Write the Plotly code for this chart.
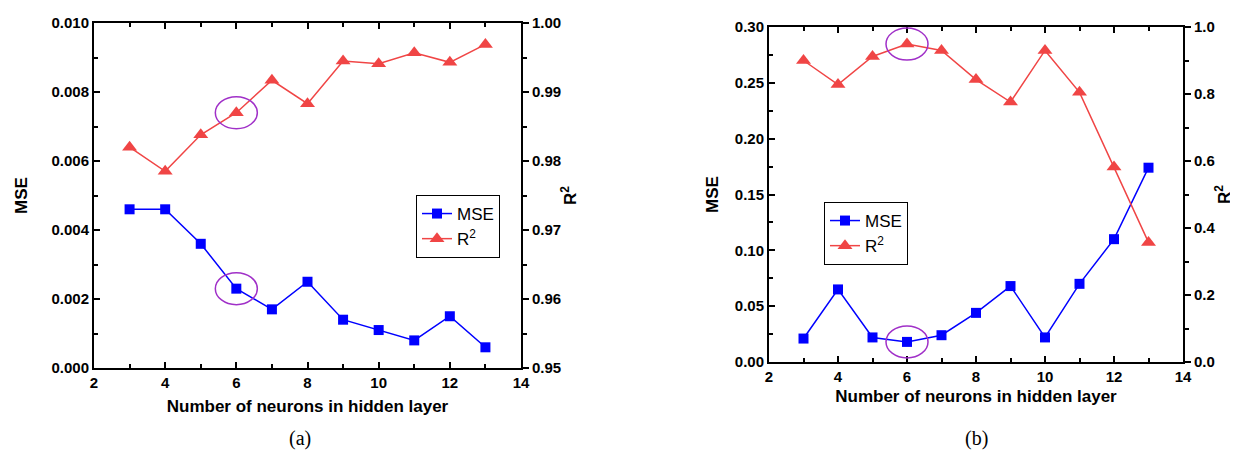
import plotly.graph_objects as go

# ---------------- data ----------------
neurons = [3, 4, 5, 6, 7, 8, 9, 10, 11, 12, 13]
mse_a = [0.0046, 0.0046, 0.0036, 0.0023, 0.0017, 0.0025, 0.0014, 0.0011, 0.0008, 0.0015, 0.0006]
r2_a = [0.9820, 0.9785, 0.9838, 0.9870, 0.9917, 0.9883, 0.9945, 0.9941, 0.9957, 0.9943, 0.9969]
mse_b = [0.021, 0.065, 0.022, 0.018, 0.024, 0.044, 0.068, 0.022, 0.070, 0.110, 0.174]
r2_b = [0.900, 0.828, 0.912, 0.949, 0.930, 0.843, 0.776, 0.930, 0.805, 0.582, 0.357]
best_neurons = 6
panel_labels = ["(a)", "(b)"]
x_title = "Number of neurons in hidden layer"

# ---------------- styles ----------------
BLUE = "#0000FF"
RED = "#F04545"
PURPLE = "#A030C8"
FONT = "Liberation Sans"
W, H = 1238, 450

fig = go.Figure()

def add_pair(mse, r2, xa, ya_mse, ya_r2, legend):
    fig.add_trace(go.Scatter(
        x=neurons, y=mse, name="MSE", mode="lines+markers",
        xaxis=xa, yaxis=ya_mse, legend=legend,
        line=dict(color=BLUE, width=1.5),
        marker=dict(symbol="square", size=10, color=BLUE)))
    fig.add_trace(go.Scatter(
        x=neurons, y=r2, name="R<sup>2</sup>", mode="lines+markers",
        xaxis=xa, yaxis=ya_r2, legend=legend,
        line=dict(color=RED, width=1.5),
        marker=dict(symbol="triangle-up", size=13, color=RED)))

add_pair(mse_a, r2_a, "x", "y", "y2", "legend")
add_pair(mse_b, r2_b, "x2", "y3", "y4", "legend2")

# highlight ellipses around the selected neuron count
i_best = neurons.index(best_neurons)
for xref, yref, yval in [("x", "y2", r2_a[i_best]), ("x", "y", mse_a[i_best]),
                         ("x2", "y4", r2_b[i_best]), ("x2", "y3", mse_b[i_best])]:
    fig.add_shape(type="circle", xref=xref, yref=yref,
                  xsizemode="pixel", ysizemode="pixel",
                  xanchor=best_neurons, yanchor=yval,
                  x0=-21, x1=21, y0=-16, y1=16,
                  line=dict(color=PURPLE, width=1.5))

tickfont = dict(family=FONT, size=15, color="black", weight="bold")
titlefont = dict(family=FONT, size=17, color="black", weight="bold")

def xax(domain, anchor, standoff):
    return dict(domain=domain, anchor=anchor, range=[2, 14], dtick=2, tick0=2,
                showgrid=False, zeroline=False, showline=True, linewidth=2,
                linecolor="black", mirror="ticks", ticks="inside", ticklen=6,
                tickwidth=1.5, tickcolor="black", tickfont=tickfont,
                minor=dict(dtick=1, ticks="inside", ticklen=4, tickwidth=1.5,
                           tickcolor="black", showgrid=False),
                title=dict(text=x_title, font=titlefont, standoff=standoff),
                automargin=False)

def yleft(domain, anchor, rng, dtick, minor, fmt, standoff):
    return dict(domain=domain, anchor=anchor, range=rng, dtick=dtick,
                showgrid=False, zeroline=False, showline=True, linewidth=2,
                linecolor="black", ticks="inside", ticklen=6, tickwidth=1.5,
                tickcolor="black", tickfont=tickfont, tickformat=fmt,
                minor=dict(dtick=minor, ticks="inside", ticklen=4, tickwidth=1.5,
                           tickcolor="black", showgrid=False),
                title=dict(text="MSE", font=titlefont, standoff=standoff),
                automargin=False)

def yright(overlay, anchor, rng, dtick, minor, fmt, standoff):
    return dict(overlaying=overlay, anchor=anchor, side="right", range=rng,
                dtick=dtick, showgrid=False, zeroline=False, showline=True,
                linewidth=2, linecolor="black", ticks="outside", ticklen=6,
                tickwidth=1.5, tickcolor="black", tickfont=tickfont,
                tickformat=fmt,
                minor=dict(dtick=minor, ticks="outside", ticklen=4, tickwidth=1.5,
                           tickcolor="black", showgrid=False),
                title=dict(text="R<sup>2</sup>", font=titlefont, standoff=standoff),
                automargin=False)

dom_xa = [86 / W, 513 / W]
dom_xb = [761 / W, 1175 / W]
dom_ya = [(H - 360) / H, (H - 15) / H]
dom_yb = [(H - 354) / H, (H - 19) / H]

legend_style = dict(xref="paper", yref="paper", xanchor="left", yanchor="top",
                    bgcolor="white", bordercolor="black", borderwidth=1,
                    font=dict(family=FONT, size=17, color="black"),
                    tracegroupgap=0, itemwidth=30)

fig.update_layout(
    width=W, height=H,
    margin=dict(l=0, r=0, t=0, b=0),
    paper_bgcolor="white", plot_bgcolor="white",
    font=dict(family=FONT, color="black"),
    xaxis=xax(dom_xa, "y", 10),
    xaxis2=xax(dom_xb, "y3", 6),
    yaxis=yleft(dom_ya, "x", [0, 0.010], 0.002, 0.001, ".3f", 20),
    yaxis2=yright("y", "x", [0.95, 1.00], 0.01, 0.005, ".2f", 4),
    yaxis3=yleft(dom_yb, "x2", [0, 0.30], 0.05, 0.025, ".2f", 12),
    yaxis4=yright("y3", "x2", [0, 1.0], 0.2, 0.1, ".1f", 4),
    legend=dict(x=408 / W, y=(H - 187) / H, **legend_style),
    legend2=dict(x=816 / W, y=(H - 194) / H, **legend_style),
    showlegend=True,
)

for label, dom in zip(panel_labels, [dom_xa, dom_xb]):
    fig.add_annotation(text=label, xref="paper", yref="paper",
                       x=(dom[0] + dom[1]) / 2 - (0.006 if label == "(a)" else 0),
                       y=(H - 430) / H, xanchor="center", yanchor="middle",
                       showarrow=False,
                       font=dict(family="Liberation Serif", size=20, color="black"))

fig.write_html("out.html")
